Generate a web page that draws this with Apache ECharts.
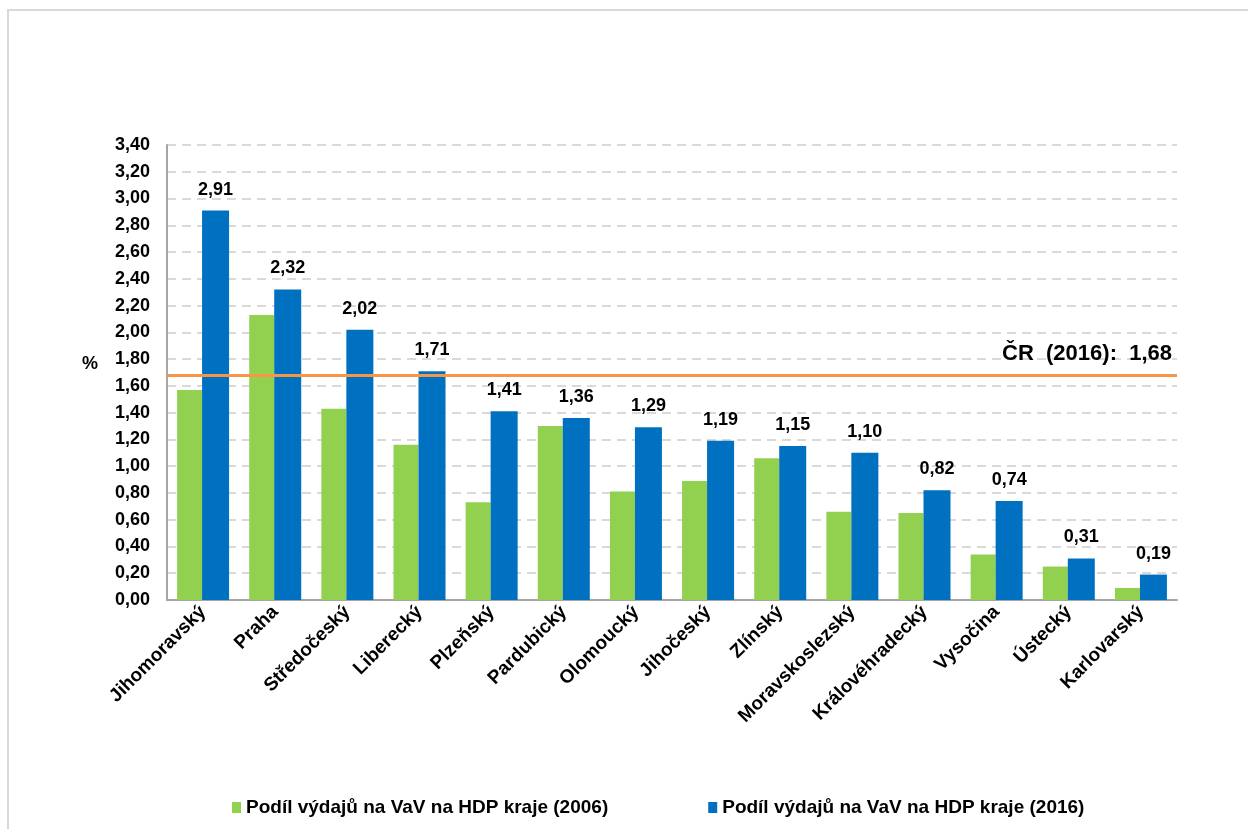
<!DOCTYPE html>
<html>
<head>
<meta charset="utf-8">
<script src="https://cdn.jsdelivr.net/npm/echarts@6/dist/echarts.min.js"></script>
<style>
html,body{margin:0;padding:0;background:#fff;}
#chart{width:1248px;height:829px;}
</style>
</head>
<body>
<div id="chart"></div>
<script>
const categories = ["Jihomoravský","Praha","Středočeský","Liberecký","Plzeňský","Pardubický","Olomoucký","Jihočeský","Zlínský","Moravskoslezský","Královéhradecký","Vysočina","Ústecký","Karlovarský"];
const values2006 = [1.57,2.13,1.43,1.16,0.73,1.30,0.81,0.89,1.06,0.66,0.65,0.34,0.25,0.09];
const values2016 = [2.91,2.32,2.02,1.71,1.41,1.36,1.29,1.19,1.15,1.10,0.82,0.74,0.31,0.19];
const seriesNames = ["Podíl výdajů na VaV na HDP kraje (2006)","Podíl výdajů na VaV na HDP kraje (2016)"];
const crValue = 1.68;
const crLabel = "ČR  (2016):  1,68";

const FONT = "'Liberation Sans', Arial, sans-serif";
const fmt = v => v.toFixed(2).replace('.', ',');

const chart = echarts.init(document.getElementById('chart'), null, {renderer:'canvas'});
chart.setOption({
  animation:false,
  backgroundColor:'#fff',
  textStyle:{fontFamily:FONT},
  grid:{left:167,right:71,top:145,bottom:229,containLabel:false},
  legend:{
    left:227, top:793,
    itemWidth:9, itemHeight:11, itemGap:100,
    icon:'rect',
    textStyle:{fontFamily:FONT,fontWeight:'bold',fontSize:19,color:'#000'},
    data:seriesNames
  },
  xAxis:{
    type:'category',
    data:categories,
    axisLine:{lineStyle:{color:'#a6a6a6',width:2}},
    axisTick:{show:false},
    axisLabel:{rotate:45,margin:9,fontFamily:FONT,fontWeight:'bold',fontSize:19,color:'#000',interval:0}
  },
  yAxis:{
    type:'value',
    min:0,max:3.4,interval:0.2,
    axisLine:{show:true,lineStyle:{color:'#a6a6a6',width:2}},
    axisTick:{show:false},
    axisLabel:{margin:17,fontFamily:FONT,fontWeight:'bold',fontSize:18,color:'#000',formatter:v=>fmt(v)},
    splitLine:{show:true,lineStyle:{color:'#d9d9d9',width:2,type:[9,6]}}
  },
  series:[
    {
      name:seriesNames[0], type:'bar', data:values2006,
      itemStyle:{color:'#92D050'},
      barWidth:25, barGap:'0%'
    },
    {
      name:seriesNames[1], type:'bar', data:values2016,
      itemStyle:{color:'#0070C0'},
      barWidth:27, barGap:'0%',
      label:{show:true,position:'top',distance:12,fontFamily:FONT,fontWeight:'bold',fontSize:18,color:'#000',formatter:p=>fmt(p.value)},
      markLine:{
        silent:true, symbol:'none',
        lineStyle:{color:'#F79646',width:3,type:'solid'},
        label:{show:true,position:'insideEndTop',distance:[5,10],formatter:crLabel,fontFamily:FONT,fontWeight:'bold',fontSize:22,color:'#000'},
        data:[{yAxis:crValue}]
      }
    }
  ],
  graphic:[
    {type:'rect',shape:{x:8,y:10,width:1400,height:1000},style:{fill:'none',stroke:'#d9d9d9',lineWidth:2},silent:true,z:-1},
    {type:'text',left:82,top:355,style:{text:'%',font:"bold 18px 'Liberation Sans', Arial, sans-serif",fill:'#000'}}
  ]
});
</script>
</body>
</html>
